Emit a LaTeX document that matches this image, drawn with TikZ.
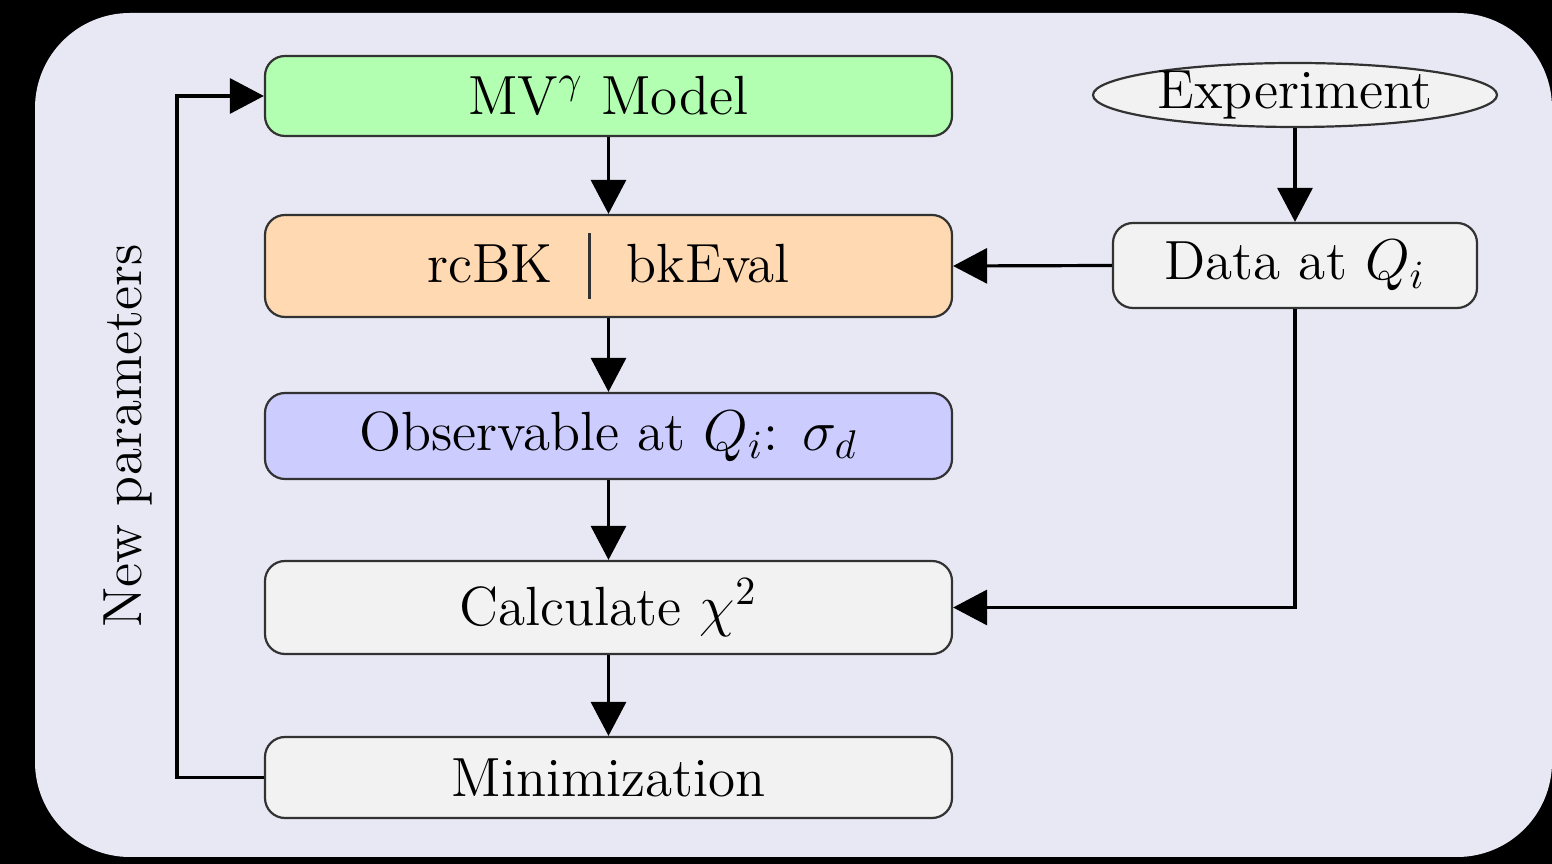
\documentclass[tikz,border=0pt]{standalone}
\usetikzlibrary{arrows.meta,shapes.geometric}
\definecolor{panel}{RGB}{232,232,244}
\definecolor{boxline}{RGB}{50,50,50}
\newcommand{\labelfont}{\fontsize{13.8}{16}\selectfont}
\tikzset{
  stage/.style={draw=boxline, line width=0.55pt, rounded corners=5pt,
    minimum width=171.75pt, inner sep=0pt, align=center, font=\labelfont},
  source/.style={draw=boxline, line width=0.55pt, ellipse, fill=gray!10,
    minimum width=101pt, minimum height=16pt, inner xsep=0pt, inner ysep=-0.6pt, font=\labelfont},
  flow/.style={line width=0.8pt, -{Triangle[length=8.5pt,width=8.75pt]}},
}
\begin{document}
\begin{tikzpicture}[x=0.25pt,y=-0.25pt]
  \useasboundingbox (0,0) rectangle (1552,864);
  \fill[black] (0,0) rectangle (1552,864);
  \fill[panel, rounded corners=23.75pt] (35,13) rectangle (1552,857);

  % main chain of the fit
  \node[stage, fill=green!30, minimum height=20pt] (mv) at (608.5,96) {MV$^\gamma$ Model};
  \node[stage, fill=orange!30, minimum height=25.5pt] (bk) at (608.5,266)
    {rcBK\hspace{9pt}{\color{boxline}\rule[-4.2pt]{0.6pt}{16.5pt}}\hspace{9pt}bkEval};
  \node[stage, fill=blue!20, minimum height=21.5pt] (obs) at (608.5,436)
    {Observable at $Q_i$: $\sigma_d$};
  \node[stage, fill=gray!10, minimum height=23.25pt] (calc) at (608.5,607.5) {Calculate $\chi^2$};
  \node[stage, fill=gray!10, minimum height=20.25pt] (mini) at (608.5,777.5) {Minimization};

  % experimental input
  \node[source] (exp) at (1295,95) {Experiment};
  \node[stage, fill=gray!10, minimum width=91pt, minimum height=21.25pt] (data) at (1295,265.5) {Data at $Q_i$};

  \draw[flow] (mv) -- (bk);
  \draw[flow] (bk) -- (obs);
  \draw[flow] (obs) -- (calc);
  \draw[flow] (calc) -- (mini);
  \draw[flow] (exp) -- (data);
  \draw[flow] (data.west) -- (bk.east);
  \draw[flow] (data.south) |- (calc.east);

  % feedback loop
  \draw[flow] (mini.west) -- ++(-87,0) coordinate (loop) |- (mv.west);
  \node[rotate=90, font=\labelfont] (newpar) at (128,436) {New parameters};
\end{tikzpicture}
\end{document}
